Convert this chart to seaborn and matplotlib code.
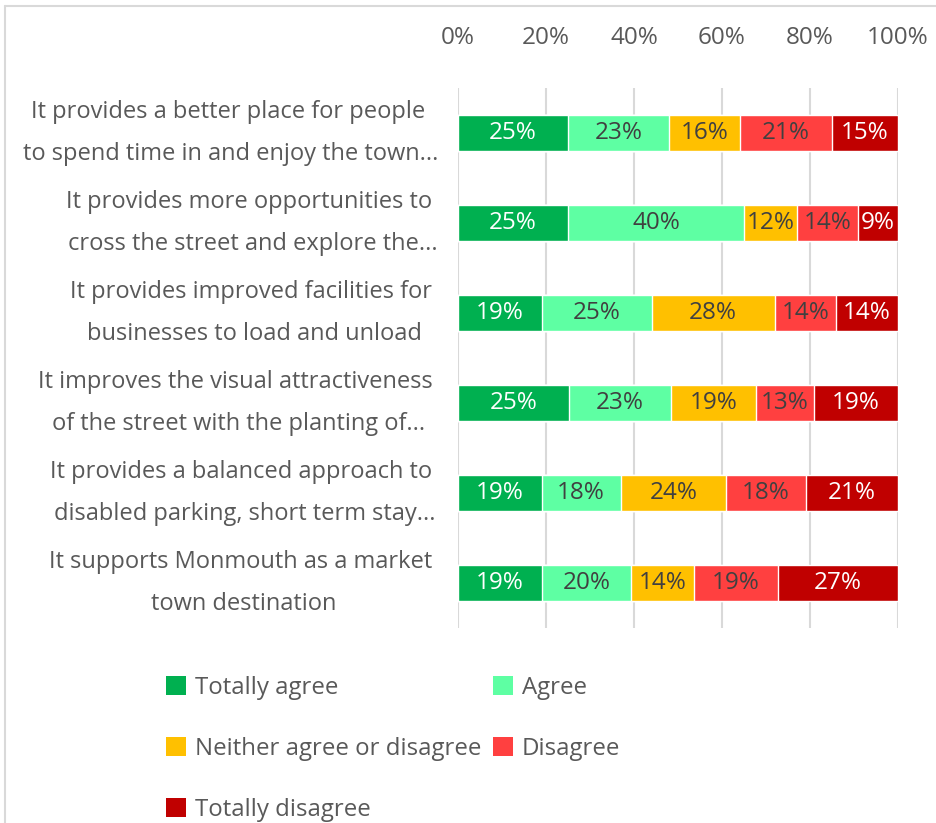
import matplotlib
matplotlib.use("Agg")
import matplotlib.pyplot as plt
from matplotlib.patches import Patch
from matplotlib.lines import Line2D
import numpy as np
import pandas as pd
import seaborn as sns

statements = [
    "It provides a better place for people \nto spend time in and enjoy the town...",
    "It provides more opportunities to \ncross the street and explore the...",
    "It provides improved facilities for \nbusinesses to load and unload",
    "It improves the visual attractiveness \nof the street with the planting of...",
    "It provides a balanced approach to \ndisabled parking, short term stay...",
    "It supports Monmouth as a market \ntown destination",
]
responses = ["Totally agree", "Agree", "Neither agree or disagree", "Disagree", "Totally disagree"]
totally_agree = [25, 25, 19, 25, 19, 19]
agree = [23, 40, 25, 23, 18, 20]
neither = [16, 12, 28, 19, 24, 14]
disagree = [21, 14, 14, 13, 18, 19]
totally_disagree = [15, 9, 14, 19, 21, 27]
ticks = [0, 20, 40, 60, 80, 100]

colors = ["#00B050", "#5EFFA3", "#FFC000", "#FF4040", "#C00000"]
label_colors = ["white", "#404040", "#404040", "#404040", "white"]

sns.set_theme(style="white")
plt.rcParams["font.family"] = ["Open Sans", "DejaVu Sans"]

df = pd.DataFrame(
    np.array([totally_agree, agree, neither, disagree, totally_disagree]).T,
    columns=responses,
)
df["statement"] = statements
vals = df[responses].astype(float)
share = vals.div(vals.sum(axis=1), axis=0) * 100
cum = share.cumsum(axis=1)

fig = plt.figure(figsize=(9.37, 8.23), dpi=100)
ax = fig.add_axes([458 / 937, 1 - 628 / 823, 440 / 937, 540 / 823])

# stacked look: draw cumulative totals from the right, each on top of the last
for k in reversed(range(len(responses))):
    sns.barplot(
        x=cum[responses[k]], y=df["statement"], color=colors[k],
        width=0.4, saturation=1, orient="h", ax=ax, zorder=3,
    )

for i in range(len(statements)):
    for k, r in enumerate(responses):
        center = cum.iloc[i, k] - share.iloc[i, k] / 2
        ax.text(center, i, f"{int(vals.iloc[i, k])}%", ha="center", va="center",
                color=label_colors[k], fontsize=17.5, zorder=5)

ax.set_xlim(0, 100)
ax.set_ylim(len(statements) - 0.5, -0.5)
ax.set_xticks(ticks)
ax.set_xticklabels([f"{t}%" for t in ticks], fontsize=17.5, color="#595959")
ax.xaxis.tick_top()
ax.tick_params(axis="x", length=0, pad=27)
ax.set_yticks(range(len(statements)))
ax.set_yticklabels(statements, fontsize=17, color="#595959", multialignment="center",
                   linespacing=2.05)
for lbl in ax.get_yticklabels():
    lbl.set_verticalalignment("center")
ax.tick_params(axis="y", length=0, pad=14)
ax.set_xlabel("")
ax.set_ylabel("")
ax.grid(axis="x", color="#D9D9D9", linewidth=1.5, zorder=0)
ax.grid(axis="y", visible=False)
for s in ax.spines.values():
    s.set_visible(False)

handles = [Patch(facecolor=c, edgecolor="none") for c in colors]
order = [0, 2, 4, 1, 3]
fig.legend(
    [handles[i] for i in order], [responses[i] for i in order],
    loc="upper left", bbox_to_anchor=(166 / 937, 1 - 676 / 823), ncol=2,
    frameon=False, fontsize=17.3, handlelength=0.83, handleheight=0.83,
    handletextpad=0.37, labelspacing=1.53, columnspacing=0.5, labelcolor="#595959",
    borderpad=0, borderaxespad=0,
)

fig.add_artist(Line2D([5 / 937, 5 / 937], [0, 1 - 6 / 823], color="#D9D9D9", linewidth=1.5))
fig.add_artist(Line2D([5 / 937, 1], [1 - 6 / 823, 1 - 6 / 823], color="#D9D9D9", linewidth=1.5))

fig.savefig("out.png", dpi=100)
